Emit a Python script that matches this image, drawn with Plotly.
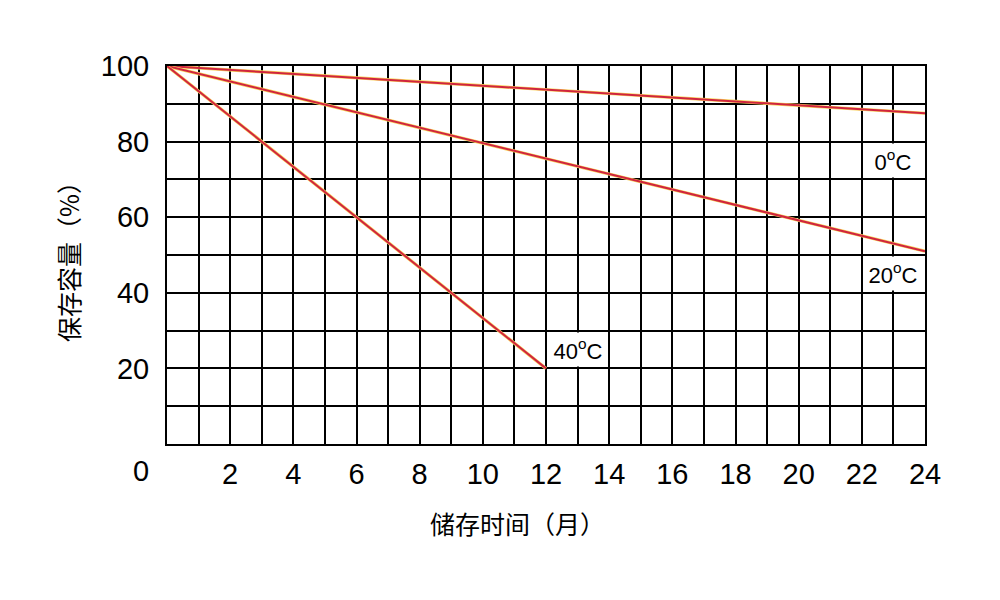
import plotly.graph_objects as go

# storage months and remaining capacity (%)
months_0c = [0, 24]
capacity_0c = [100, 87.5]
months_20c = [0, 24]
capacity_20c = [100, 51]
months_40c = [0, 12]
capacity_40c = [100, 20]

# curve labels: text, cell centre (month, %)
label_text = ["0<sup>o</sup>C", "20<sup>o</sup>C", "40<sup>o</sup>C"]
label_x = [23, 23, 13]
label_y = [75, 45, 25]

x_ticks = list(range(0, 25))
x_ticktext = [str(m) if m % 2 == 0 and m > 0 else "" for m in x_ticks]
y_ticks = list(range(0, 101, 10))
y_ticktext = [str(v) if v % 20 == 0 and v > 0 else "" for v in y_ticks]

FONT = "Liberation Sans, Arial, Noto Sans CJK SC"
CJK = "Noto Sans CJK SC, Liberation Sans"

# plot area in page pixels (page body has an 8px margin)
OFF = 8
L, R, T, B = 167 - OFF, 925 - OFF, 66 - OFF, 444 - OFF

def paper_x(px):
  return (px - OFF - L) / (R - L)

def paper_y(py):
  return (B - (py - OFF)) / (B - T)

fig = go.Figure()

for xs, ys in [(months_0c, capacity_0c), (months_20c, capacity_20c), (months_40c, capacity_40c)]:
  # yellow halo under the red line, like the printed original
  fig.add_trace(go.Scatter(x=xs, y=ys, mode="lines", line=dict(color="#f8d25a", width=3.2),
                           hoverinfo="skip", showlegend=False))
  fig.add_trace(go.Scatter(x=xs, y=ys, mode="lines", line=dict(color="#d0243f", width=2),
                           showlegend=False))

for t, lx, ly in zip(label_text, label_x, label_y):
  fig.add_annotation(x=lx, y=ly, text=t, showarrow=False, bgcolor="white",
                     width=56, height=33, borderpad=0,
                     font=dict(family=FONT, size=22, color="black"))

# origin label sits apart from the x tick labels
fig.add_annotation(x=0, y=0, text="0", showarrow=False,
                   xshift=-26, yshift=-27, font=dict(family=FONT, size=29, color="black"))

fig.add_annotation(x=paper_x(68), y=paper_y(255), xref="paper", yref="paper",
                   xanchor="center", yanchor="middle",
                   text="保存容量（%）", showarrow=False, textangle=-90,
                   font=dict(family=CJK, size=25, color="black"))
fig.add_annotation(x=paper_x(517), y=paper_y(523), xref="paper", yref="paper",
                   xanchor="center", yanchor="middle",
                   text="储存时间（月）", showarrow=False,
                   font=dict(family=CJK, size=25, color="black"))

fig.update_xaxes(range=[0, 24], tickvals=x_ticks, ticktext=x_ticktext,
                 showgrid=True, gridcolor="black", gridwidth=1.5,
                 showline=True, linecolor="black", linewidth=2, mirror=True,
                 zeroline=False, ticks="", ticklabelstandoff=3,
                 tickfont=dict(family=FONT, size=29, color="black"))
fig.update_yaxes(range=[0, 100], tickvals=y_ticks, ticktext=y_ticktext,
                 showgrid=True, gridcolor="black", gridwidth=1.5,
                 showline=True, linecolor="black", linewidth=2, mirror=True,
                 zeroline=False, ticks="", ticklabelstandoff=10,
                 tickfont=dict(family=FONT, size=29, color="black"))

fig.update_layout(width=1000, height=600,
                  margin=dict(l=L, r=1000 - R, t=T, b=600 - B),
                  plot_bgcolor="white", paper_bgcolor="white")

fig.write_html("out.html")
